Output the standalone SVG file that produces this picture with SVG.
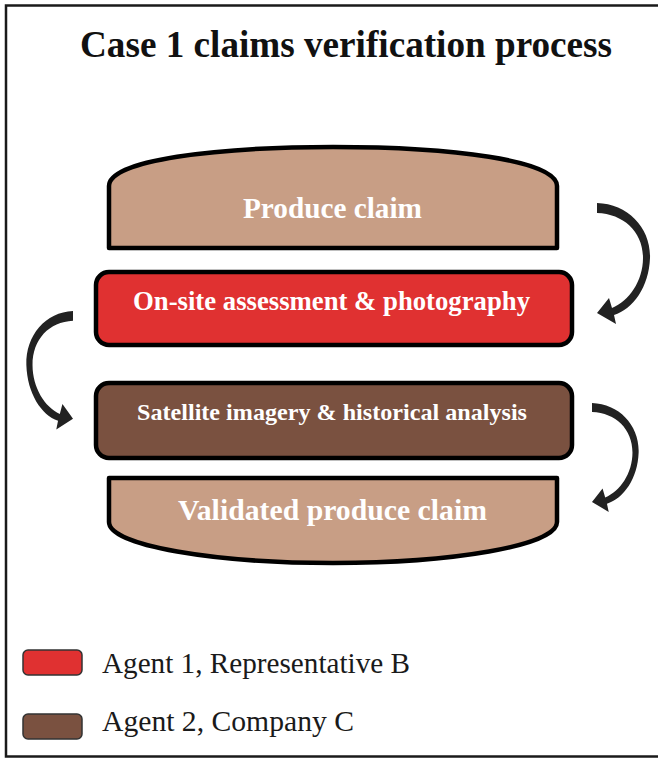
<svg xmlns="http://www.w3.org/2000/svg" width="658" height="760" viewBox="0 0 658 760">
  <style>
    .frame { fill: #ffffff; stroke: #1a1a1a; stroke-width: 2.5; }
    .title { font-family: "Liberation Serif", "Times New Roman", serif; font-weight: bold; font-size: 37px; fill: #111; }
    .stage { stroke: #000; stroke-width: 4.5; stroke-linejoin: round; }
    .bun { fill: #c89e85; }
    .agent1 { fill: #e03131; }
    .agent2 { fill: #7a5140; }
    .label { font-family: "Liberation Serif", "Times New Roman", serif; font-weight: bold; fill: #ffffff; }
    .flow { fill: #222222; }
    .key { stroke: #333; stroke-width: 1.5; }
    .keytext { font-family: "Liberation Serif", "Times New Roman", serif; font-size: 29.5px; fill: #1a1a1a; }
  </style>
  <defs>
    <!-- tapered curved arrow, starting at its top-left tail -->
    <path id="curved-arrow" d="M0,0 C31,1 54,25 53,55 C52,84 36,106 17,112 L19,121 L0,110 L12,95 L15,105 C32,98 46,78 46,55 C46,29 27,11 0,10 Z"/>
  </defs>

  <rect class="frame" x="6" y="5.5" width="660" height="751"/>
  <text class="title" x="80" y="57" textLength="532" lengthAdjust="spacingAndGlyphs">Case 1 claims verification process</text>

  <g id="produce-claim">
    <path class="stage bun" d="M109,248 V186 C109,160 216,147 333,147 C450,147 557,160 557,186 V248 Z"/>
    <text class="label" x="243" y="218" font-size="29" textLength="179" lengthAdjust="spacingAndGlyphs">Produce claim</text>
  </g>

  <g id="onsite-assessment">
    <rect class="stage agent1" x="96" y="272" width="476" height="73" rx="13"/>
    <text class="label" x="133" y="310" font-size="26.5" textLength="397" lengthAdjust="spacingAndGlyphs">On-site assessment &amp; photography</text>
  </g>

  <g id="satellite-analysis">
    <rect class="stage agent2" x="96" y="383" width="476" height="75" rx="13"/>
    <text class="label" x="137" y="420" font-size="24" textLength="390" lengthAdjust="spacingAndGlyphs">Satellite imagery &amp; historical analysis</text>
  </g>

  <g id="validated-claim">
    <path class="stage bun" d="M109,478 H557 V522 C557,546 450,563 333,563 C216,563 109,546 109,522 Z"/>
    <text class="label" x="178" y="520" font-size="29.5" textLength="309" lengthAdjust="spacingAndGlyphs">Validated produce claim</text>
  </g>

  <g id="connectors">
    <use class="flow" href="#curved-arrow" transform="translate(597,203)"/>
    <use class="flow" href="#curved-arrow" transform="translate(73,311) scale(-0.88,0.98)"/>
    <use class="flow" href="#curved-arrow" transform="translate(592,403) scale(0.88,0.9)"/>
  </g>

  <g id="legend">
    <rect class="key agent1" x="23" y="650" width="59" height="25" rx="5"/>
    <text class="keytext" x="102" y="673" textLength="308" lengthAdjust="spacingAndGlyphs">Agent 1, Representative B</text>
    <rect class="key agent2" x="23" y="714" width="59" height="25" rx="5"/>
    <text class="keytext" x="102" y="731" textLength="252" lengthAdjust="spacingAndGlyphs">Agent 2, Company C</text>
  </g>
</svg>
